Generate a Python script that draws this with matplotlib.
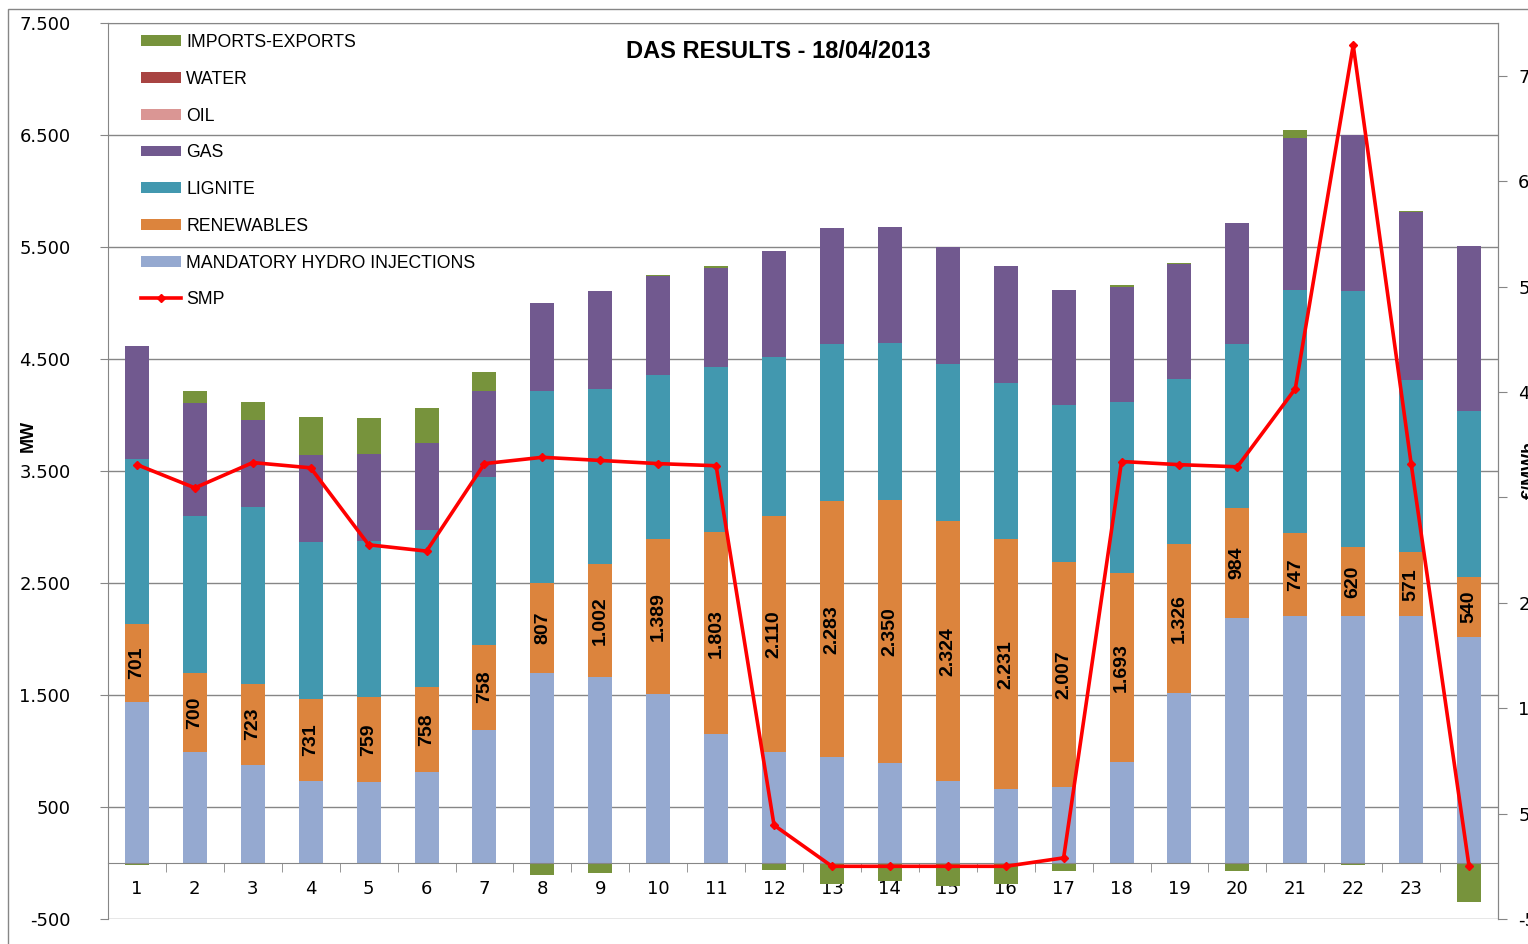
import numpy as np
import matplotlib
matplotlib.use("Agg")
import matplotlib.pyplot as plt
from matplotlib.patches import Rectangle

# --- data ---
hours = np.arange(1, 25)

hydro = [1436, 994, 879, 736, 720, 815, 1191, 1694, 1665, 1508, 1151, 992,
         946, 891, 729, 659, 682, 899, 1519, 2186, 2202, 2202, 2202, 2018]
renewables = [701, 700, 723, 731, 759, 758, 758, 807, 1002, 1389, 1803, 2110,
              2283, 2350, 2324, 2231, 2007, 1693, 1326, 984, 747, 620, 571, 540]
lignite = [1471, 1405, 1576, 1399, 1397, 1402, 1500, 1716, 1566, 1463, 1476, 1417,
           1407, 1402, 1404, 1397, 1404, 1524, 1473, 1466, 2169, 2283, 1543, 1477]
gas = [1007, 1012, 781, 777, 777, 777, 764, 787, 876, 880, 884, 946,
       1035, 1039, 1039, 1039, 1027, 1031, 1031, 1081, 1356, 1391, 1495, 1474]
oil = [0] * 24
water = [0] * 24
imports = [-20, 102, 156, 341, 322, 312, 169, -105, -89, 12, 12, -66,
           -188, -164, -208, -188, -74, 10, 10, -74, 71, -20, 12, -351]
smp = [38.1, 35.9, 38.3, 37.8, 30.5, 29.9, 38.2, 38.8, 38.5, 38.2, 38.0, 3.9,
       0.0, 0.0, 0.0, 0.0, 0.8, 38.4, 38.1, 37.9, 45.3, 77.9, 38.2, 0.0]

series = [
    ("MANDATORY HYDRO INJECTIONS", hydro, "#95A9D0"),
    ("RENEWABLES", renewables, "#DC843D"),
    ("LIGNITE", lignite, "#4298AF"),
    ("GAS", gas, "#71598F"),
    ("OIL", oil, "#DA9694"),
    ("WATER", water, "#A84442"),
]
IMP_COLOR = "#77933C"
GRID = "#868686"


def thousands(v):
    return f"{int(v):,}".replace(",", ".")


W, H = 1528, 944
fig = plt.figure(figsize=(W / 100, H / 100), dpi=100)
ax = fig.add_axes([108 / W, 1 - 919 / H, (1498 - 108) / W, (919 - 23) / H])

# stacked bars
bar_w = 0.415
bottom = np.zeros(24)
handles = {}
for name, vals, col in series:
    vals = np.array(vals, dtype=float)
    handles[name] = ax.bar(hours, vals, bar_w, bottom=bottom, color=col,
                           edgecolor="none", zorder=2)
    bottom += vals
imp = np.array(imports, dtype=float)
handles["IMPORTS-EXPORTS"] = ax.bar(hours, imp, bar_w, bottom=np.where(imp > 0, bottom, 0),
                                    color=IMP_COLOR, edgecolor="none", zorder=2)

# renewables value labels
for h, hy, r in zip(hours, hydro, renewables):
    ax.text(h, hy + r / 2, thousands(r), rotation=90, ha="center", va="center",
            fontsize=14, fontweight="bold", family="Liberation Sans", zorder=3)

# left axis
ax.set_xlim(0.5, 24.5)
ax.set_ylim(-500, 7500)
yt = np.arange(-500, 7501, 1000)
ax.set_yticks(yt)
ax.set_yticklabels([thousands(v) for v in yt])
ax.yaxis.grid(True, color=GRID, lw=1)
ax.set_axisbelow(True)
ax.spines["bottom"].set_position(("data", 0))
for s in ["left", "top", "bottom", "right"]:
    ax.spines[s].set_color(GRID)
ax.set_xticks(hours)
ax.set_xticklabels([str(h) for h in hours])
ax.set_xticks(hours[:-1] + 0.5, minor=True)
ax.tick_params(axis="x", which="major", length=0, pad=12, labelsize=13)
ax.tick_params(axis="x", which="minor", length=6.5, color=GRID, direction="out")
ax.tick_params(axis="y", length=6, color=GRID, pad=21, labelsize=13)

# right axis (SMP); the 35 label is hidden behind the axis title, as in the original
ax2 = ax.twinx()
ax2.set_ylim(-5, 80)
rt = np.arange(-5, 76, 10)
ax2.set_yticks(rt)
ax2.set_yticklabels(["" if v == 35 else str(v) for v in rt])
ax2.tick_params(axis="y", length=6.5, color=GRID, pad=8, labelsize=13)
for s in ["left", "top", "bottom"]:
    ax2.spines[s].set_visible(False)
ax2.spines["right"].set_color(GRID)
line, = ax2.plot(hours, smp, color="#FF0000", lw=2.6, marker="D", ms=4.5, zorder=5)

# texts
fig.text(778 / W, 1 - 51 / H, "DAS RESULTS - 18/04/2013", ha="center", va="center",
         fontsize=17, fontweight="bold", family="Liberation Sans")
fig.text(28 / W, 1 - 436 / H, "MW", rotation=90, ha="center", va="center",
         fontsize=13, fontweight="bold", family="Liberation Sans")
fig.text(1522 / W, 1 - 470 / H, "€/MWh", rotation=90, ha="left", va="center",
         fontsize=13, fontweight="bold", family="Liberation Sans")

# legend
order = ["IMPORTS-EXPORTS", "WATER", "OIL", "GAS", "LIGNITE", "RENEWABLES",
         "MANDATORY HYDRO INJECTIONS"]
leg = ax2.legend([handles[n] for n in order] + [line], order + ["SMP"],
                 loc="upper left", bbox_to_anchor=(141 / W, 1 - 34 / H),
                 bbox_transform=fig.transFigure, frameon=False, borderpad=0,
                 borderaxespad=0, handlelength=2.27, handleheight=0.57,
                 handletextpad=0.3, labelspacing=1.12,
                 prop={"family": "Liberation Sans", "size": 12.7})

# chart-area border
fig.add_artist(Rectangle((8 / W, -0.05), 1.2, 1.05 - 9 / H, transform=fig.transFigure,
                         fill=False, edgecolor=GRID, lw=1))

fig.savefig("out.png", dpi=100)
